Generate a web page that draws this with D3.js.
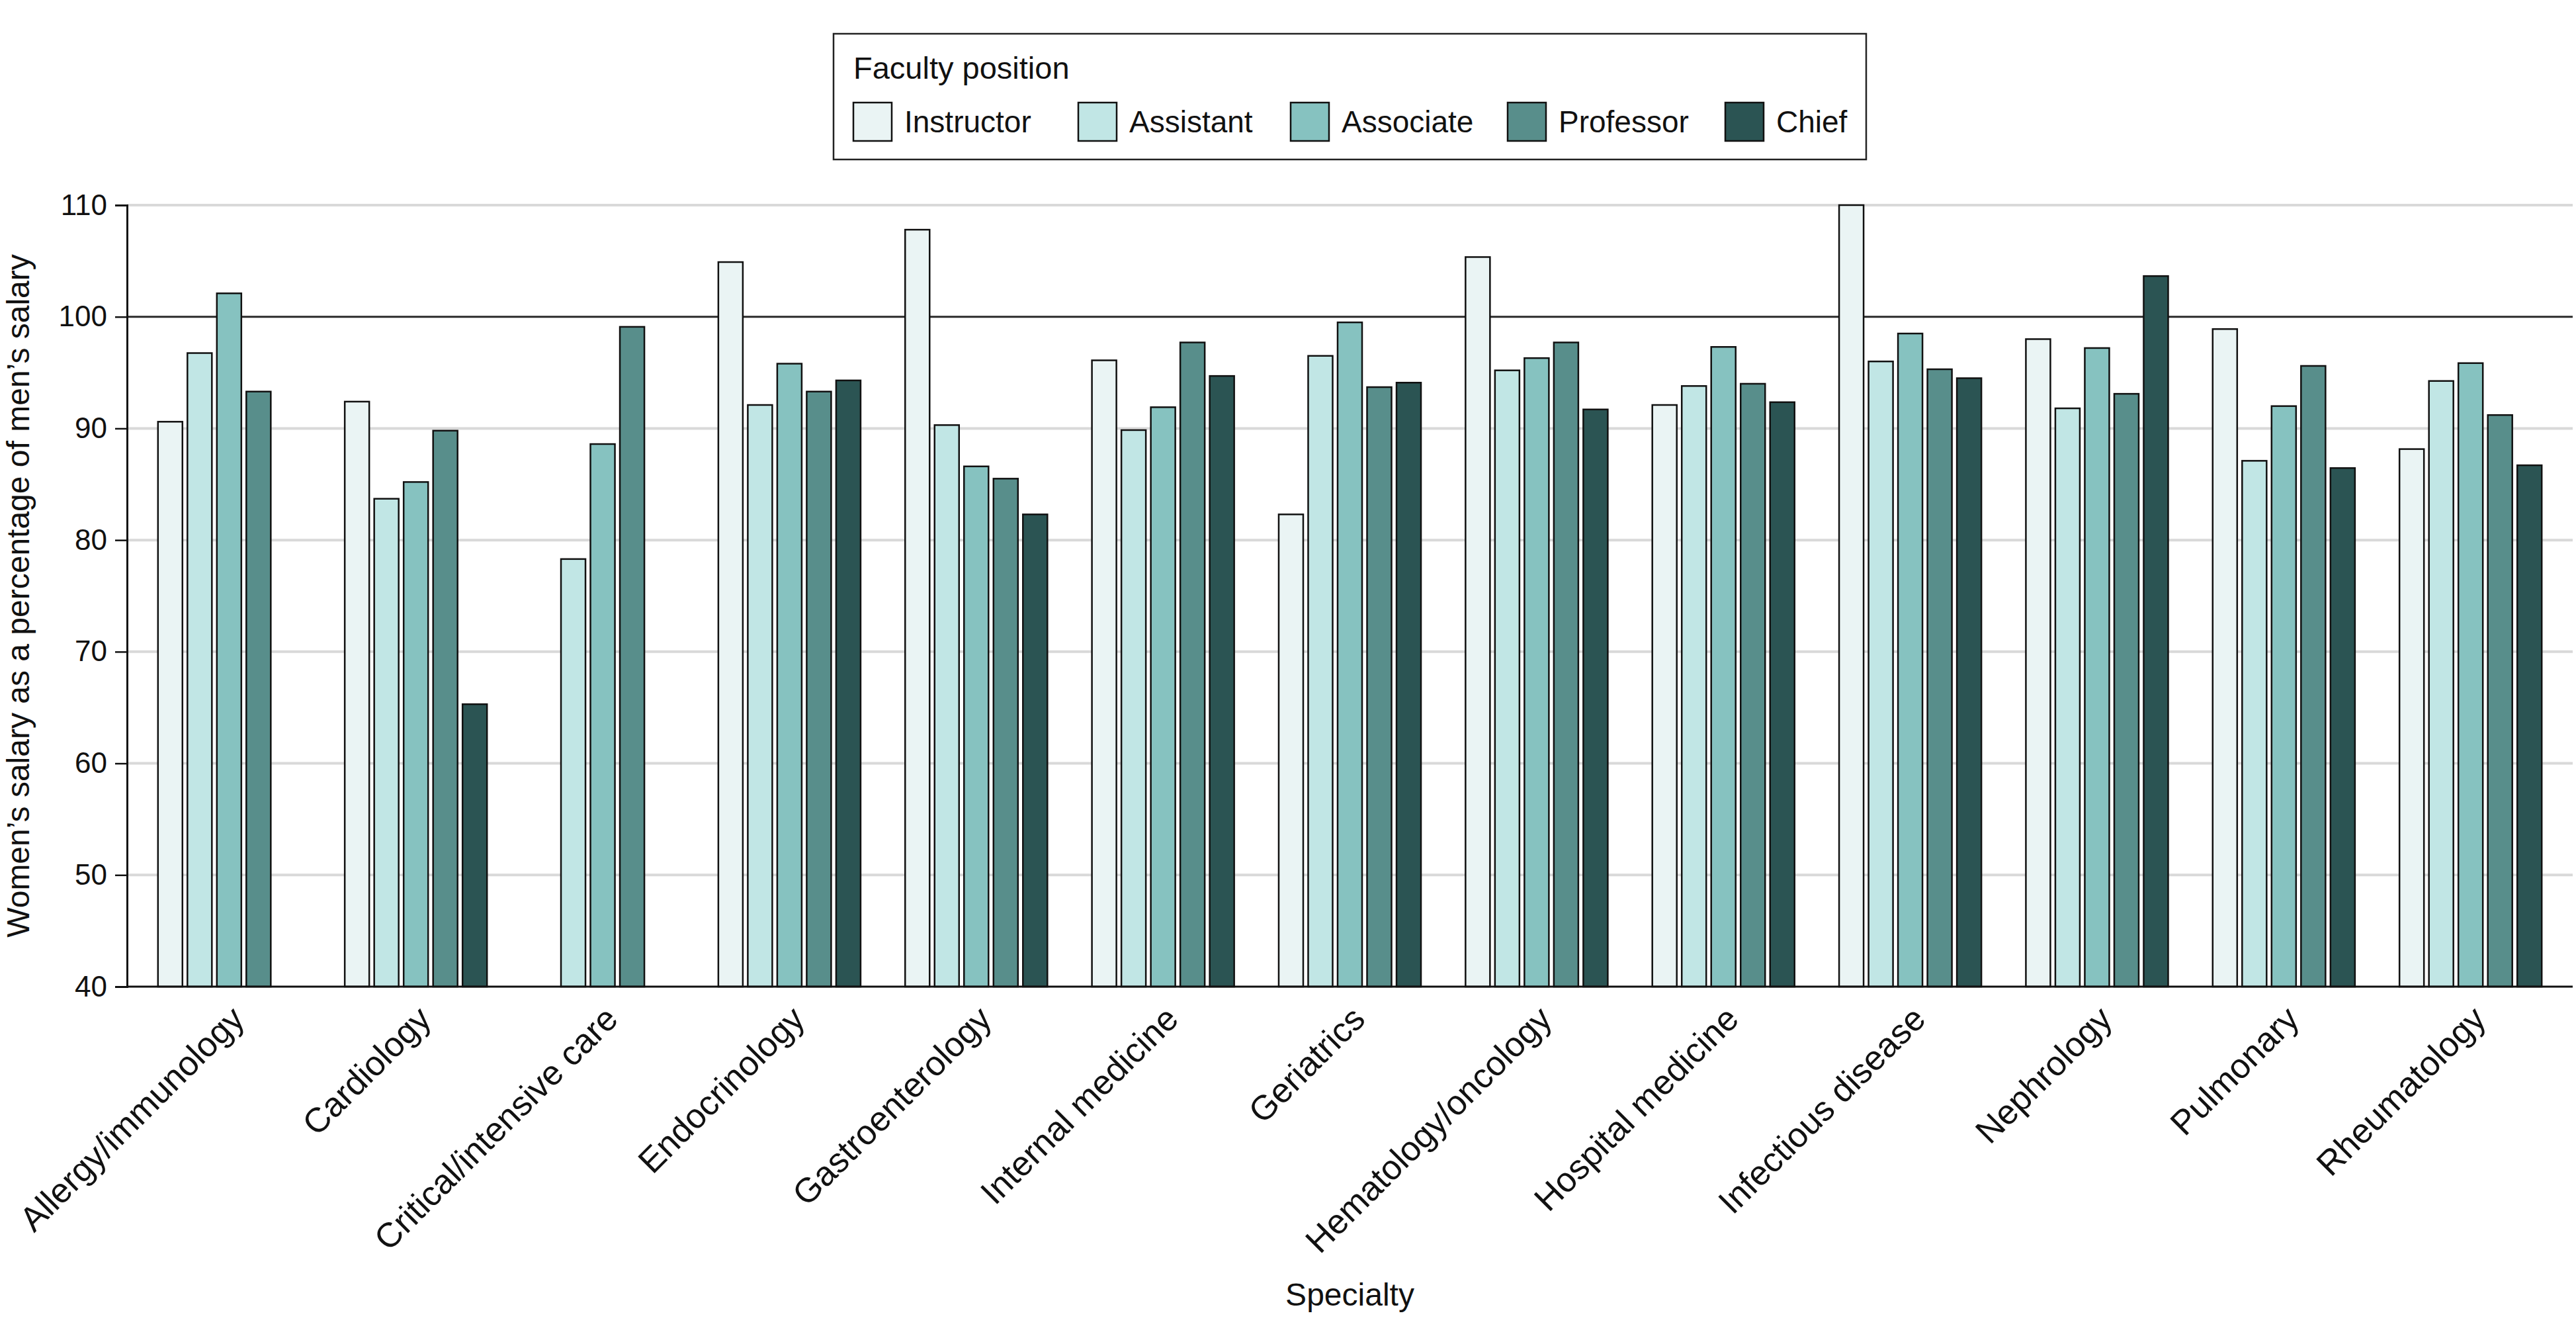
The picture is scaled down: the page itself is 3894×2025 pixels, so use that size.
<!DOCTYPE html>
<html>
<head>
<meta charset="utf-8">
<script src="https://cdn.jsdelivr.net/npm/d3@7"></script>
<style>
  html, body { margin: 0; padding: 0; background: #fff; }
  svg { display: block; }
  text { font-family: "Liberation Sans", Arial, sans-serif; fill: #111; }
</style>
</head>
<body>
<svg id="chart" width="3894" height="2025"></svg>
<script>
const categories = ["Allergy/immunology", "Cardiology", "Critical/intensive care", "Endocrinology",
  "Gastroenterology", "Internal medicine", "Geriatrics", "Hematology/oncology", "Hospital medicine",
  "Infectious disease", "Nephrology", "Pulmonary", "Rheumatology"];
const positions = ["Instructor", "Assistant", "Associate", "Professor", "Chief"];
const instructor = [90.6, 92.4, null, 104.9, 107.8, 96.1, 82.3, 105.35, 92.1, 110.0, 98.0, 98.9, 88.15];
const assistant  = [96.75, 83.7, 78.3, 92.1, 90.3, 89.85, 96.5, 95.2, 93.8, 96.0, 91.8, 87.1, 94.25];
const associate  = [102.1, 85.2, 88.6, 95.8, 86.6, 91.9, 99.5, 96.3, 97.3, 98.5, 97.2, 92.0, 95.85];
const professor  = [93.3, 89.8, 99.1, 93.3, 85.5, 97.7, 93.7, 97.7, 94.0, 95.3, 93.1, 95.6, 91.2];
const chief      = [null, 65.3, null, 94.3, 82.3, 94.7, 94.1, 91.7, 92.35, 94.5, 103.65, 86.45, 86.7];
const yTicks = [40, 50, 60, 70, 80, 90, 100, 110];
const colors = ["#EAF4F4", "#C1E6E5", "#86C2C0", "#588E8B", "#2B5453"];

const seriesValues = [instructor, assistant, associate, professor, chief];

const svg = d3.select("#chart");
const plotLeft = 192, plotRight = 3889, plotTop = 310, plotBottom = 1491;

const x0 = d3.scaleBand().domain(categories).range([plotLeft, plotRight])
  .paddingInner(0.2384).paddingOuter(0.1657);
const x1 = d3.scaleBand().domain(positions).range([0, x0.bandwidth()])
  .paddingInner(0.1685).paddingOuter(0);
const y = d3.scaleLinear().domain([40, 110]).range([plotBottom, plotTop]);
const color = d3.scaleOrdinal().domain(positions).range(colors);

// gridlines
svg.append("g").selectAll("line").data(yTicks.filter(t => t !== 40 && t !== 100)).join("line")
  .attr("x1", plotLeft).attr("x2", plotRight)
  .attr("y1", d => y(d)).attr("y2", d => y(d))
  .attr("stroke", "#d9d9d9").attr("stroke-width", 4);
// reference line at 100
svg.append("line").attr("x1", plotLeft).attr("x2", plotRight)
  .attr("y1", y(100)).attr("y2", y(100))
  .attr("stroke", "#2a2a2a").attr("stroke-width", 3);

// bars
const data = [];
categories.forEach((c, i) => {
  positions.forEach((p, j) => {
    const v = seriesValues[j][i];
    if (v != null) data.push({ c, p, v });
  });
});
svg.append("g").selectAll("rect").data(data).join("rect")
  .attr("x", d => x0(d.c) + x1(d.p))
  .attr("width", x1.bandwidth())
  .attr("y", d => y(d.v))
  .attr("height", d => y(40) - y(d.v))
  .attr("fill", d => color(d.p))
  .attr("stroke", "#111").attr("stroke-width", 2.5);

// y axis
const yAxis = svg.append("g").attr("transform", `translate(${plotLeft},0)`)
  .call(d3.axisLeft(y).tickValues(yTicks).tickSize(18).tickPadding(12).tickFormat(d3.format("d")));
yAxis.select(".domain").attr("stroke", "#111").attr("stroke-width", 3);
yAxis.selectAll(".tick line").attr("stroke", "#111").attr("stroke-width", 2.5);
yAxis.selectAll(".tick text").attr("font-size", 44).attr("font-family", "Liberation Sans, Arial, sans-serif").attr("fill", "#111");

// x axis
const xAxis = svg.append("g").attr("transform", `translate(0,${plotBottom})`)
  .call(d3.axisBottom(x0).tickSize(0).tickPadding(0));
xAxis.select(".domain").attr("stroke", "#111").attr("stroke-width", 3)
  .attr("d", `M${plotLeft},0H${plotRight}`);
xAxis.selectAll(".tick text")
  .attr("font-size", 52).attr("font-family", "Liberation Sans, Arial, sans-serif").attr("fill", "#111")
  .attr("text-anchor", "end").attr("dy", 0).attr("y", 0)
  .attr("transform", "translate(26,52) rotate(-45)");

// axis titles
svg.append("text").attr("transform", `translate(44,${(plotTop + plotBottom) / 2}) rotate(-90)`)
  .attr("text-anchor", "middle").attr("font-size", 48)
  .text("Women\u2019s salary as a percentage of men\u2019s salary");
svg.append("text").attr("x", (plotLeft + plotRight) / 2).attr("y", 1973)
  .attr("text-anchor", "middle").attr("font-size", 48).text("Specialty");

// legend
const lg = svg.append("g");
lg.append("rect").attr("x", 1260).attr("y", 51).attr("width", 1561).attr("height", 190)
  .attr("fill", "#fff").attr("stroke", "#222").attr("stroke-width", 2.5);
lg.append("text").attr("x", 1290).attr("y", 119).attr("font-size", 47).text("Faculty position");
const legX = [1290, 1630, 1951, 2279, 2608];
positions.forEach((p, i) => {
  lg.append("rect").attr("x", legX[i]).attr("y", 155).attr("width", 58).attr("height", 58)
    .attr("fill", color(p)).attr("stroke", "#111").attr("stroke-width", 2.5);
  lg.append("text").attr("x", legX[i] + 77).attr("y", 200).attr("font-size", 46).text(p);
});
</script>
</body>
</html>
